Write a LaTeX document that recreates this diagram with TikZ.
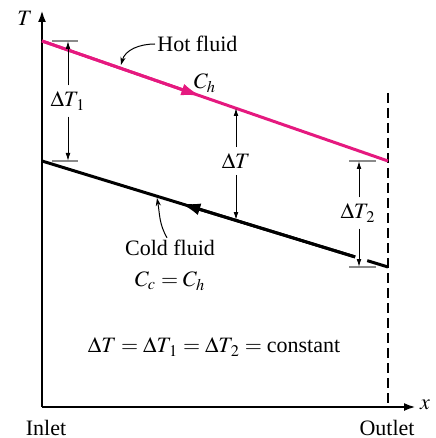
\documentclass[tikz,border=0pt]{standalone}
\usepackage{mathptmx}
\usepackage{fontspec}
\setmainfont{Liberation Serif}
\usepackage{tikz}
\usetikzlibrary{arrows.meta,calc}
\definecolor{rosa}{HTML}{E5197F}
\definecolor{gristick}{HTML}{8A8A8A}
\tikzset{
  eje/.style={line width=1.2pt,-{Latex[length=6pt,width=4pt]}},
  linea/.style={line width=1.5pt},
  caliente/.style={linea,rosa},
  fria/.style={linea,black},
  punta/.style={-{Latex[length=10pt,width=6pt]}},
  marca/.style={gristick,line width=0.6pt},
  cota/.style={line width=0.5pt,-{Latex[length=4pt,width=2.4pt]}},
  guia/.style={line width=0.5pt,-{Stealth[length=4pt,width=2.6pt]}},
  texto/.style={font=\fontsize{11}{13}\selectfont,inner sep=1pt},
  etq/.style={texto,inner sep=3pt},
}
\begin{document}
\begin{tikzpicture}[x=0.5pt,y=-0.5pt]
  \useasboundingbox (0,0) rectangle (435,438);
  % ejes
  \coordinate (O) at (42,407);
  \coordinate (ytop) at (42,10);
  \coordinate (xend) at (416,407);
  \draw[eje] (O) -- (ytop);
  \draw[eje] (O) -- (xend);
  \node[texto] (lblT) at (25,18) {$T$};
  \node[texto] (lblx) at (425,405) {$x$};
  \node[texto] (inlet) at (46,428) {Inlet};
  \node[texto] (outlet) at (387,428) {Outlet};
  % salida
  \coordinate (sal1) at (388,93);
  \coordinate (sal2) at (388,407);
  \draw[line width=0.6pt,dash pattern=on 5pt off 2.5pt] (sal1) -- (sal2);
  % fluidos
  \coordinate (h1) at (42,41);
  \coordinate (h2) at (388,161);
  \coordinate (c1) at (42,161);
  \coordinate (c2) at (388,267);
  \coordinate (hueco1) at ($(c1)!0.905!(c2)$);
  \coordinate (hueco2) at ($(c1)!0.94!(c2)$);
  \draw[caliente] (h1) -- (h2);
  \draw[caliente,punta] (h1) -- ($(h1)!0.46!(h2)$);
  \draw[fria] (c1) -- (hueco1);
  \draw[fria,punta] (hueco1) -- ($(c1)!0.40!(c2)$);
  \draw[fria] (hueco2) -- (c2);
  \node[texto] (ch) at (205,83) {$C_h$};
  % Delta T1
  \draw[marca] (52,41) -- (78,41);
  \draw[marca] (52,161) -- (78,161);
  \node[etq] (dT1) at (68,101) {$\Delta T_{\,1}$};
  \coordinate (dT1a) at (68,41);
  \coordinate (dT1b) at (68,161);
  \draw[cota] (dT1) -- (dT1a);
  \draw[cota] (dT1) -- (dT1b);
  % Delta T
  \node[etq] (dT) at (236,161) {$\Delta T$};
  \coordinate (dTa) at (236,108);
  \coordinate (dTb) at (236,220);
  \draw[cota] (dT) -- (dTa);
  \draw[cota] (dT) -- (dTb);
  % Delta T2
  \draw[marca] (349,161) -- (376,161);
  \draw[marca] (349,267) -- (376,267);
  \node[etq] (dT2) at (358,213) {$\Delta T_{\,2}$};
  \coordinate (dT2a) at (359,161);
  \coordinate (dT2b) at (359,267);
  \draw[cota] (dT2.north -| dT2a) -- (dT2a);
  \draw[cota] (dT2.south -| dT2b) -- (dT2b);
  % rotulos
  \node[texto,anchor=west] (hot) at (155,44) {Hot fluid};
  \coordinate (hottip) at (121,65);
  \draw[guia] (hot.west) to[out=180,in=75] (hottip);
  \node[texto] (cold) at (170,248) {Cold fluid};
  \node[texto] (cceq) at (170,281) {$C_c = C_h$};
  \coordinate (coldtip) at (157,198);
  \draw[guia] ($(cold.north)+(-3,0)$) to[out=120,in=-80] (coldtip);
  \node[texto] (cte) at (214,347) {$\Delta T = \Delta T_{\,1} = \Delta T_{\,2} = \mbox{constant}$};
\end{tikzpicture}
\end{document}
